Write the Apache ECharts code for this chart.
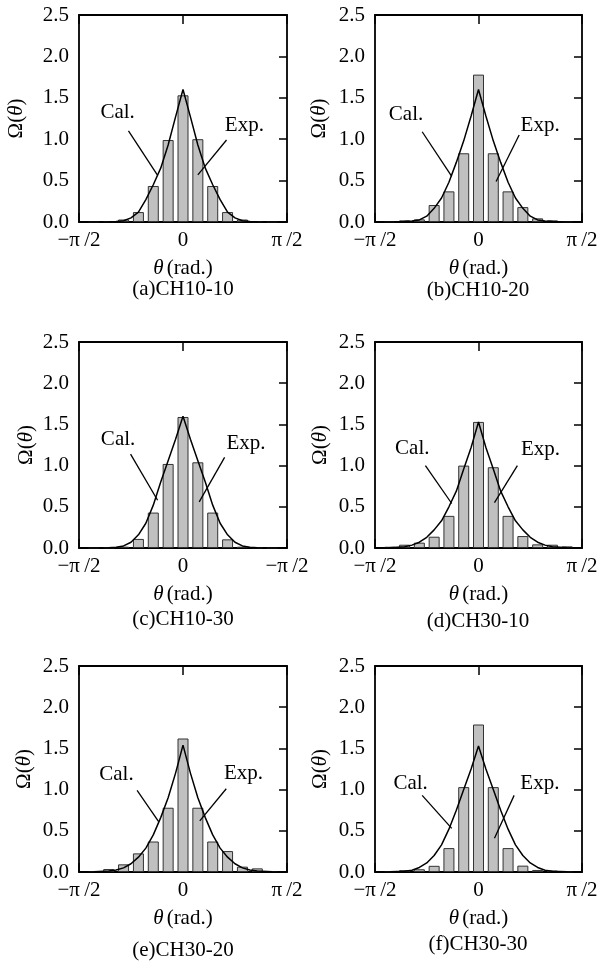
<!DOCTYPE html>
<html><head><meta charset="utf-8">
<script src="https://cdn.jsdelivr.net/npm/echarts@6/dist/echarts.min.js"></script>
<style>html,body{margin:0;padding:0;background:#fff}#c{width:606px;height:970px}</style>
</head><body><div id="c"></div>
<script>
// ---- data ----
const binCenters = [-6,-5,-4,-3,-2,-1,0,1,2,3,4,5,6];   // bin index (bin width = pi/14)
const calX = [-7,-6,-5,-4.5,-4,-3.5,-3,-2.5,-2,-1.5,-1,-0.5,0,0.5,1,1.5,2,2.5,3,3.5,4,4.5,5,6,7];

const expA = [0.005,0.01,0.03,0.12,0.435,0.99,1.53,1.0,0.435,0.12,0.03,0.01,0.005];
const expB = [0.008,0.02,0.032,0.205,0.37,0.83,1.78,0.83,0.37,0.18,0.044,0.02,0.008];
const expC = [0.003,0.008,0.016,0.11,0.43,1.02,1.59,1.04,0.43,0.105,0.016,0.008,0.003];
const expD = [0.015,0.04,0.065,0.137,0.39,1.0,1.53,0.98,0.39,0.145,0.044,0.04,0.02];
const expE = [0.012,0.036,0.093,0.226,0.37,0.78,1.62,0.78,0.37,0.254,0.065,0.044,0.012];
const expF = [0.01,0.022,0.033,0.075,0.29,1.03,1.79,1.03,0.29,0.077,0.025,0.018,0.008];

const calA = [0,0,0.003,0.007,0.015,0.05,0.12,0.27,0.45,0.65,0.93,1.27,1.6,1.27,0.93,0.65,0.45,0.27,0.12,0.05,0.015,0.007,0.003,0,0];
const calB = [0,0,0.005,0.012,0.025,0.07,0.165,0.29,0.48,0.72,0.98,1.28,1.6,1.28,0.98,0.72,0.48,0.29,0.165,0.07,0.025,0.012,0.005,0,0];
const calC = [0,0,0.004,0.01,0.025,0.07,0.16,0.3,0.52,0.8,1.06,1.32,1.6,1.32,1.06,0.8,0.52,0.3,0.16,0.07,0.025,0.01,0.004,0,0];
const calD = [0,0.004,0.016,0.035,0.07,0.13,0.22,0.33,0.5,0.69,0.96,1.22,1.53,1.22,0.96,0.69,0.5,0.33,0.22,0.13,0.07,0.035,0.016,0.004,0];
const calE = [0,0.003,0.012,0.025,0.05,0.1,0.18,0.29,0.45,0.66,0.9,1.2,1.54,1.2,0.9,0.66,0.45,0.29,0.18,0.1,0.05,0.025,0.012,0.003,0];
const calF = [0,0.002,0.008,0.022,0.055,0.11,0.2,0.33,0.52,0.75,1.0,1.25,1.53,1.25,1.0,0.75,0.52,0.33,0.2,0.11,0.055,0.022,0.008,0.002,0];

const captions = ['(a)CH10-10','(b)CH10-20','(c)CH10-30','(d)CH30-10','(e)CH30-20','(f)CH30-30'];
const xTickLabels = ['\u2212\u03c0\u2009/2','0','\u03c0\u2009/2'];
const xTickLabelsC = ['\u2212\u03c0\u2009/2','0','\u2212\u03c0\u2009/2'];
const yTickLabels = ['0.0','0.5','1.0','1.5','2.0','2.5'];
const calLabel = 'Cal.';
const expLabel = 'Exp.';

const expSets = [expA,expB,expC,expD,expE,expF];
const calSets = [calA,calB,calC,calD,calE,calF];
const xLabelSets = [xTickLabels,xTickLabels,xTickLabelsC,xTickLabels,xTickLabels,xTickLabels];

// ---- layout (pixels) and annotation anchors (axis units) ----
const layout = [
  {left:79, top:15, width:208, height:207, yGap:52, capX:183, capY:289,
   calT:[-4.4,1.32], calL:[[-3.67,1.10],[-1.73,0.57]], expT:[4.13,1.17], expL:[[2.93,0.99],[1.0,0.57]]},
  {left:375, top:15, width:207, height:207, yGap:45, capX:478, capY:290,
   calT:[-4.9,1.30], calL:[[-3.81,1.09],[-1.81,0.55]], expT:[4.17,1.16], expL:[[2.75,1.05],[1.19,0.49]]},
  {left:79, top:342, width:208, height:206, yGap:42, capX:183, capY:619,
   calT:[-4.37,1.32], calL:[[-3.53,1.14],[-1.71,0.58]], expT:[4.24,1.27], expL:[[2.8,1.10],[1.09,0.56]]},
  {left:375, top:342, width:207, height:206, yGap:44, capX:478, capY:621,
   calT:[-4.48,1.21], calL:[[-3.59,1.0],[-1.81,0.54]], expT:[4.19,1.2], expL:[[2.63,1.0],[1.08,0.55]]},
  {left:79, top:666, width:208, height:206, yGap:44, capX:183, capY:950,
   calT:[-4.48,1.18], calL:[[-3.09,0.99],[-1.64,0.61]], expT:[4.07,1.2], expL:[[2.91,1.01],[1.13,0.62]]},
  {left:375, top:666, width:207, height:206, yGap:44, capX:478, capY:944,
   calT:[-4.59,1.08], calL:[[-3.81,0.93],[-1.81,0.53]], expT:[4.15,1.08], expL:[[2.41,0.93],[1.08,0.41]]}
];

const FF = '"Liberation Serif","Times New Roman",serif';
const FS = 21;
const frame = {color:'#000', width:1.8};

const grids = [], xAxes = [], yAxes = [], series = [], graphics = [];
layout.forEach((p, i) => {
  grids.push({left:p.left, top:p.top, width:p.width, height:p.height, containLabel:false});
  const labs = xLabelSets[i];
  xAxes.push({
    gridIndex:i, type:'value', min:-7, max:7, interval:7, position:'bottom',
    axisLine:{onZero:false, lineStyle:frame},
    axisTick:{inside:true, length:9, lineStyle:{color:'#000', width:1.5}},
    axisLabel:{margin:8, color:'#000', fontSize:FS, fontFamily:FF, showMinLabel:true, showMaxLabel:true,
      formatter:(v)=> v < 0 ? labs[0] : (v > 0 ? labs[2] : labs[1])},
    splitLine:{show:false},
    name:'{i|\u03b8}{n|(rad.)}', nameLocation:'middle', nameGap:36,
    nameTextStyle:{color:'#000', fontSize:FS, fontFamily:FF,
      rich:{i:{fontStyle:'italic', fontSize:FS, fontFamily:FF, color:'#000', padding:[0,3,0,0]},
            n:{fontSize:FS, fontFamily:FF, color:'#000'}}}
  });
  xAxes.push({
    gridIndex:i, type:'value', min:-7, max:7, interval:7, position:'top',
    axisLine:{onZero:false, lineStyle:frame},
    axisTick:{inside:true, length:9, lineStyle:{color:'#000', width:1.5}},
    axisLabel:{show:false}, splitLine:{show:false}
  });
  yAxes.push({
    gridIndex:i, type:'value', min:0, max:2.5, interval:0.5, position:'left',
    axisLine:{show:true, onZero:false, lineStyle:frame},
    axisTick:{show:false},
    axisLabel:{margin:10, color:'#000', fontSize:FS, fontFamily:FF,
      formatter:(v)=> yTickLabels[Math.round(v/0.5)]},
    splitLine:{show:false},
    name:'{n|\u03a9(}{i|\u03b8}{n|)}', nameLocation:'middle', nameGap:p.yGap,
    nameTextStyle:{color:'#000', fontSize:FS, fontFamily:FF,
      rich:{i:{fontStyle:'italic', fontSize:FS, fontFamily:FF, color:'#000'},
            n:{fontSize:FS, fontFamily:FF, color:'#000'}}}
  });
  yAxes.push({
    gridIndex:i, type:'value', min:0, max:2.5, interval:0.5, position:'right',
    axisLine:{show:true, onZero:false, lineStyle:frame},
    axisTick:{show:true, inside:true, length:8, lineStyle:{color:'#000', width:1.5}},
    axisLabel:{show:false}, splitLine:{show:false}
  });
  const ex = expSets[i], ca = calSets[i];
  series.push({
    type:'bar', xAxisIndex:2*i, yAxisIndex:2*i, barWidth:11, z:2,
    data: binCenters.map((k, j) => [k, ex[j]]),
    itemStyle:{color:'#c0c0c0', borderColor:'#333', borderWidth:1}
  });
  series.push({
    type:'line', xAxisIndex:2*i, yAxisIndex:2*i, z:3, symbol:'none', smooth:false,
    data: calX.map((x, j) => [x, ca[j]]),
    lineStyle:{color:'#000', width:1.5},
    markLine:{silent:true, symbol:['none','none'], animation:false,
      lineStyle:{color:'#000', width:1.3, type:'solid'}, label:{show:false},
      emphasis:{disabled:true},
      data:[[{coord:p.calL[0]},{coord:p.calL[1]}],[{coord:p.expL[0]},{coord:p.expL[1]}]]},
    markPoint:{silent:true, symbol:'rect', symbolSize:1, animation:false,
      itemStyle:{color:'rgba(0,0,0,0)'},
      label:{show:true, position:'inside', color:'#000', fontSize:FS, fontFamily:FF, formatter:'{b}'},
      data:[{name:calLabel, coord:p.calT},{name:expLabel, coord:p.expT}]}
  });
  graphics.push({type:'text', x:p.capX, y:p.capY,
    style:{text:captions[i], fontSize:FS, fontFamily:FF, fill:'#000', align:'center', verticalAlign:'middle'}});
});

const chart = echarts.init(document.getElementById('c'), null, {renderer:'canvas'});
chart.setOption({
  animation:false,
  backgroundColor:'#fff',
  grid:grids, xAxis:xAxes, yAxis:yAxes, series:series, graphic:graphics
});
</script>
</body></html>
